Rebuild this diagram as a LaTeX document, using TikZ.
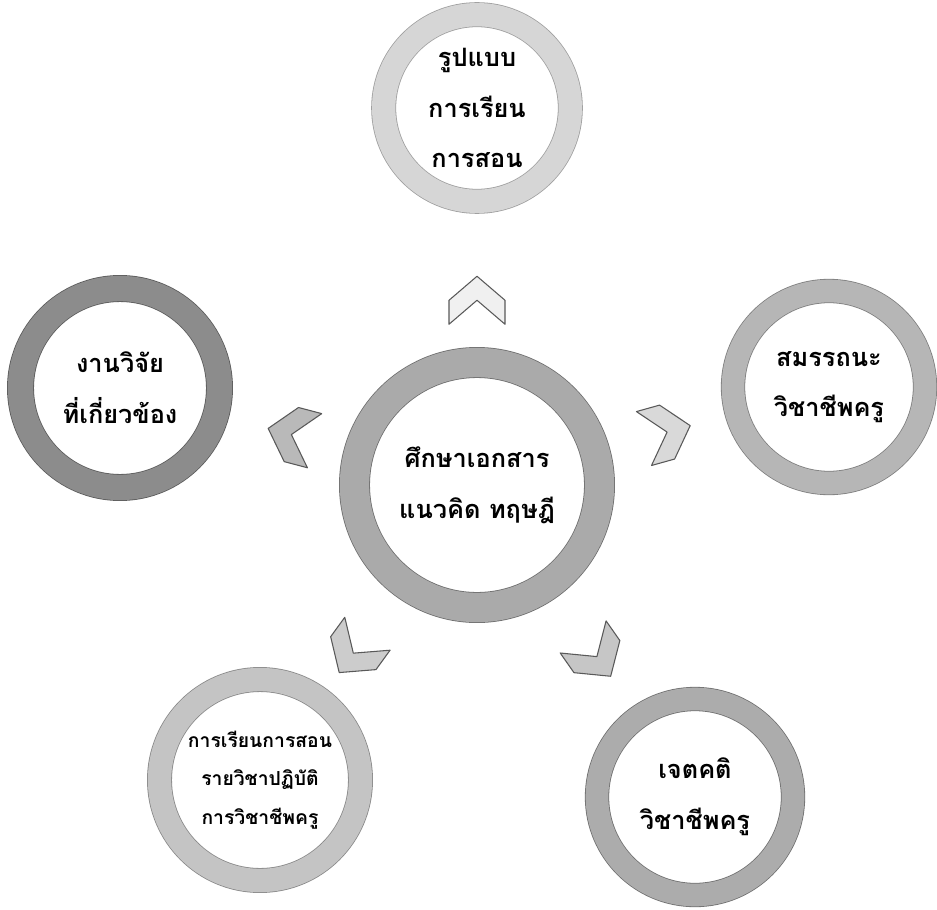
\documentclass[tikz,border=0pt]{standalone}
\usepackage{fontspec}
\newfontfamily\thaifont[Script=Thai]{Loma}
\usetikzlibrary{calc}
\definecolor{ringtop}{RGB}{214,214,214}
\definecolor{ringmid}{RGB}{170,170,170}
\definecolor{ringleft}{RGB}{140,140,140}
\definecolor{ringright}{RGB}{182,182,182}
\definecolor{ringbl}{RGB}{196,196,196}
\definecolor{ringbr}{RGB}{172,172,172}
\tikzset{
  ring/.style={circle, inner sep=0pt, outer sep=0pt, align=center, line width=0.6pt,
    font=\thaifont\bfseries\fontsize{19}{38}\selectfont},
  smalltext/.style={font=\thaifont\bfseries\fontsize{14.5}{29}\selectfont},
  chevron/.pic={\filldraw[line width=0.8pt, line join=round] (24,0) -- (0,28) -- (-24,28) -- (0,0) -- (-24,-28) -- (0,-28) -- cycle;},
}
\begin{document}
\begin{tikzpicture}[x=0.75pt,y=0.75pt,yscale=-1,xscale=1]
\useasboundingbox (0,0) rectangle (937,909);
% rings
\node [ring, draw=ringmid!65!black, double=ringmid, double distance=22pt, minimum size=183.75pt] (theory) at (477,485) {ศึกษาเอกสาร\\แนวคิด ทฤษฎี};
\node [ring, draw=ringtop!75!black, double=ringtop, double distance=17.5pt, minimum size=140pt] (model) at (477,108) {รูปแบบ\\การเรียน\\การสอน};
\node [ring, draw=ringleft!65!black, double=ringleft, double distance=19pt, minimum size=149.25pt] (research) at (120,388) {งานวิจัย\\ที่เกี่ยวข้อง};
\node [ring, draw=ringright!70!black, double=ringright, double distance=17pt, minimum size=144pt] (competency) at (829,387) {สมรรถนะ\\วิชาชีพครู};
\node [ring, smalltext, draw=ringbl!70!black, double=ringbl, double distance=17.5pt, minimum size=150.75pt] (practicum) at (260,780) {การเรียนการสอน\\รายวิชาปฏิบัติ\\การวิชาชีพครู};
\node [ring, draw=ringbr!65!black, double=ringbr, double distance=17pt, minimum size=147pt] (attitude) at (695,797) {เจตคติ\\วิชาชีพครู};
% chevrons
\foreach \sat/\ang/\pos/\col in {model/90/0.49/gray!12, research/165.2/0.52/gray!55, competency/15.6/0.54/gray!30, practicum/-126/0.57/gray!40, attitude/-55/0.55/gray!45}
  \path ($(theory)!\pos!(\sat)$) pic [rotate=\ang, fill=\col, draw=black!65] {chevron};
\end{tikzpicture}
\end{document}
